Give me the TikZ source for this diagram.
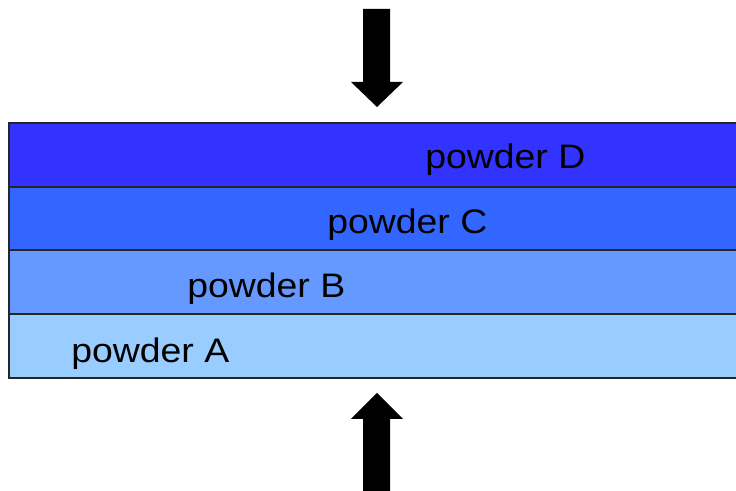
\documentclass[tikz,border=0pt]{standalone}
\usepackage{fontspec}
\setmainfont{Liberation Sans}
\definecolor{colD}{HTML}{3333FF}
\definecolor{colC}{HTML}{3366FF}
\definecolor{colB}{HTML}{6699FF}
\definecolor{colA}{HTML}{99CCFF}
\tikzset{
  layer/.style={draw=black!85, line width=1.1pt},
  lbl/.style={anchor=base west, inner sep=0pt, font=\fontsize{25.5}{30}\selectfont},
  bigarrow/.style={fill=black, draw=none}
}
\newcommand{\pw}[1]{\scalebox{1.1}[1]{#1}}
\begin{document}
\begin{tikzpicture}[x=0.75pt,y=0.75pt]
\useasboundingbox (0,0) rectangle (736,491);
\clip (0,0) rectangle (736,491);
% layers
\filldraw[layer, fill=colA] (9,113) rectangle (745,177);
\filldraw[layer, fill=colB] (9,177) rectangle (745,241);
\filldraw[layer, fill=colC] (9,241) rectangle (745,304);
\filldraw[layer, fill=colD] (9,304) rectangle (745,368);
% labels
\node[lbl] (tD) at (425,322.5) {\pw{powder D}};
\node[lbl] (tC) at (327,257.5) {\pw{powder C}};
\node[lbl] (tB) at (187,193) {\pw{powder B}};
\node[lbl] (tA) at (71,128.5) {\pw{powder A}};
% top arrow
\fill[bigarrow] (363,482) -- (390,482) -- (390,409) -- (403,409) -- (377,384) -- (351,409) -- (363,409) -- cycle;
% bottom arrow
\fill[bigarrow] (363,-5) -- (390,-5) -- (390,72) -- (403,72) -- (377,98) -- (351,72) -- (363,72) -- cycle;
\end{tikzpicture}
\end{document}
